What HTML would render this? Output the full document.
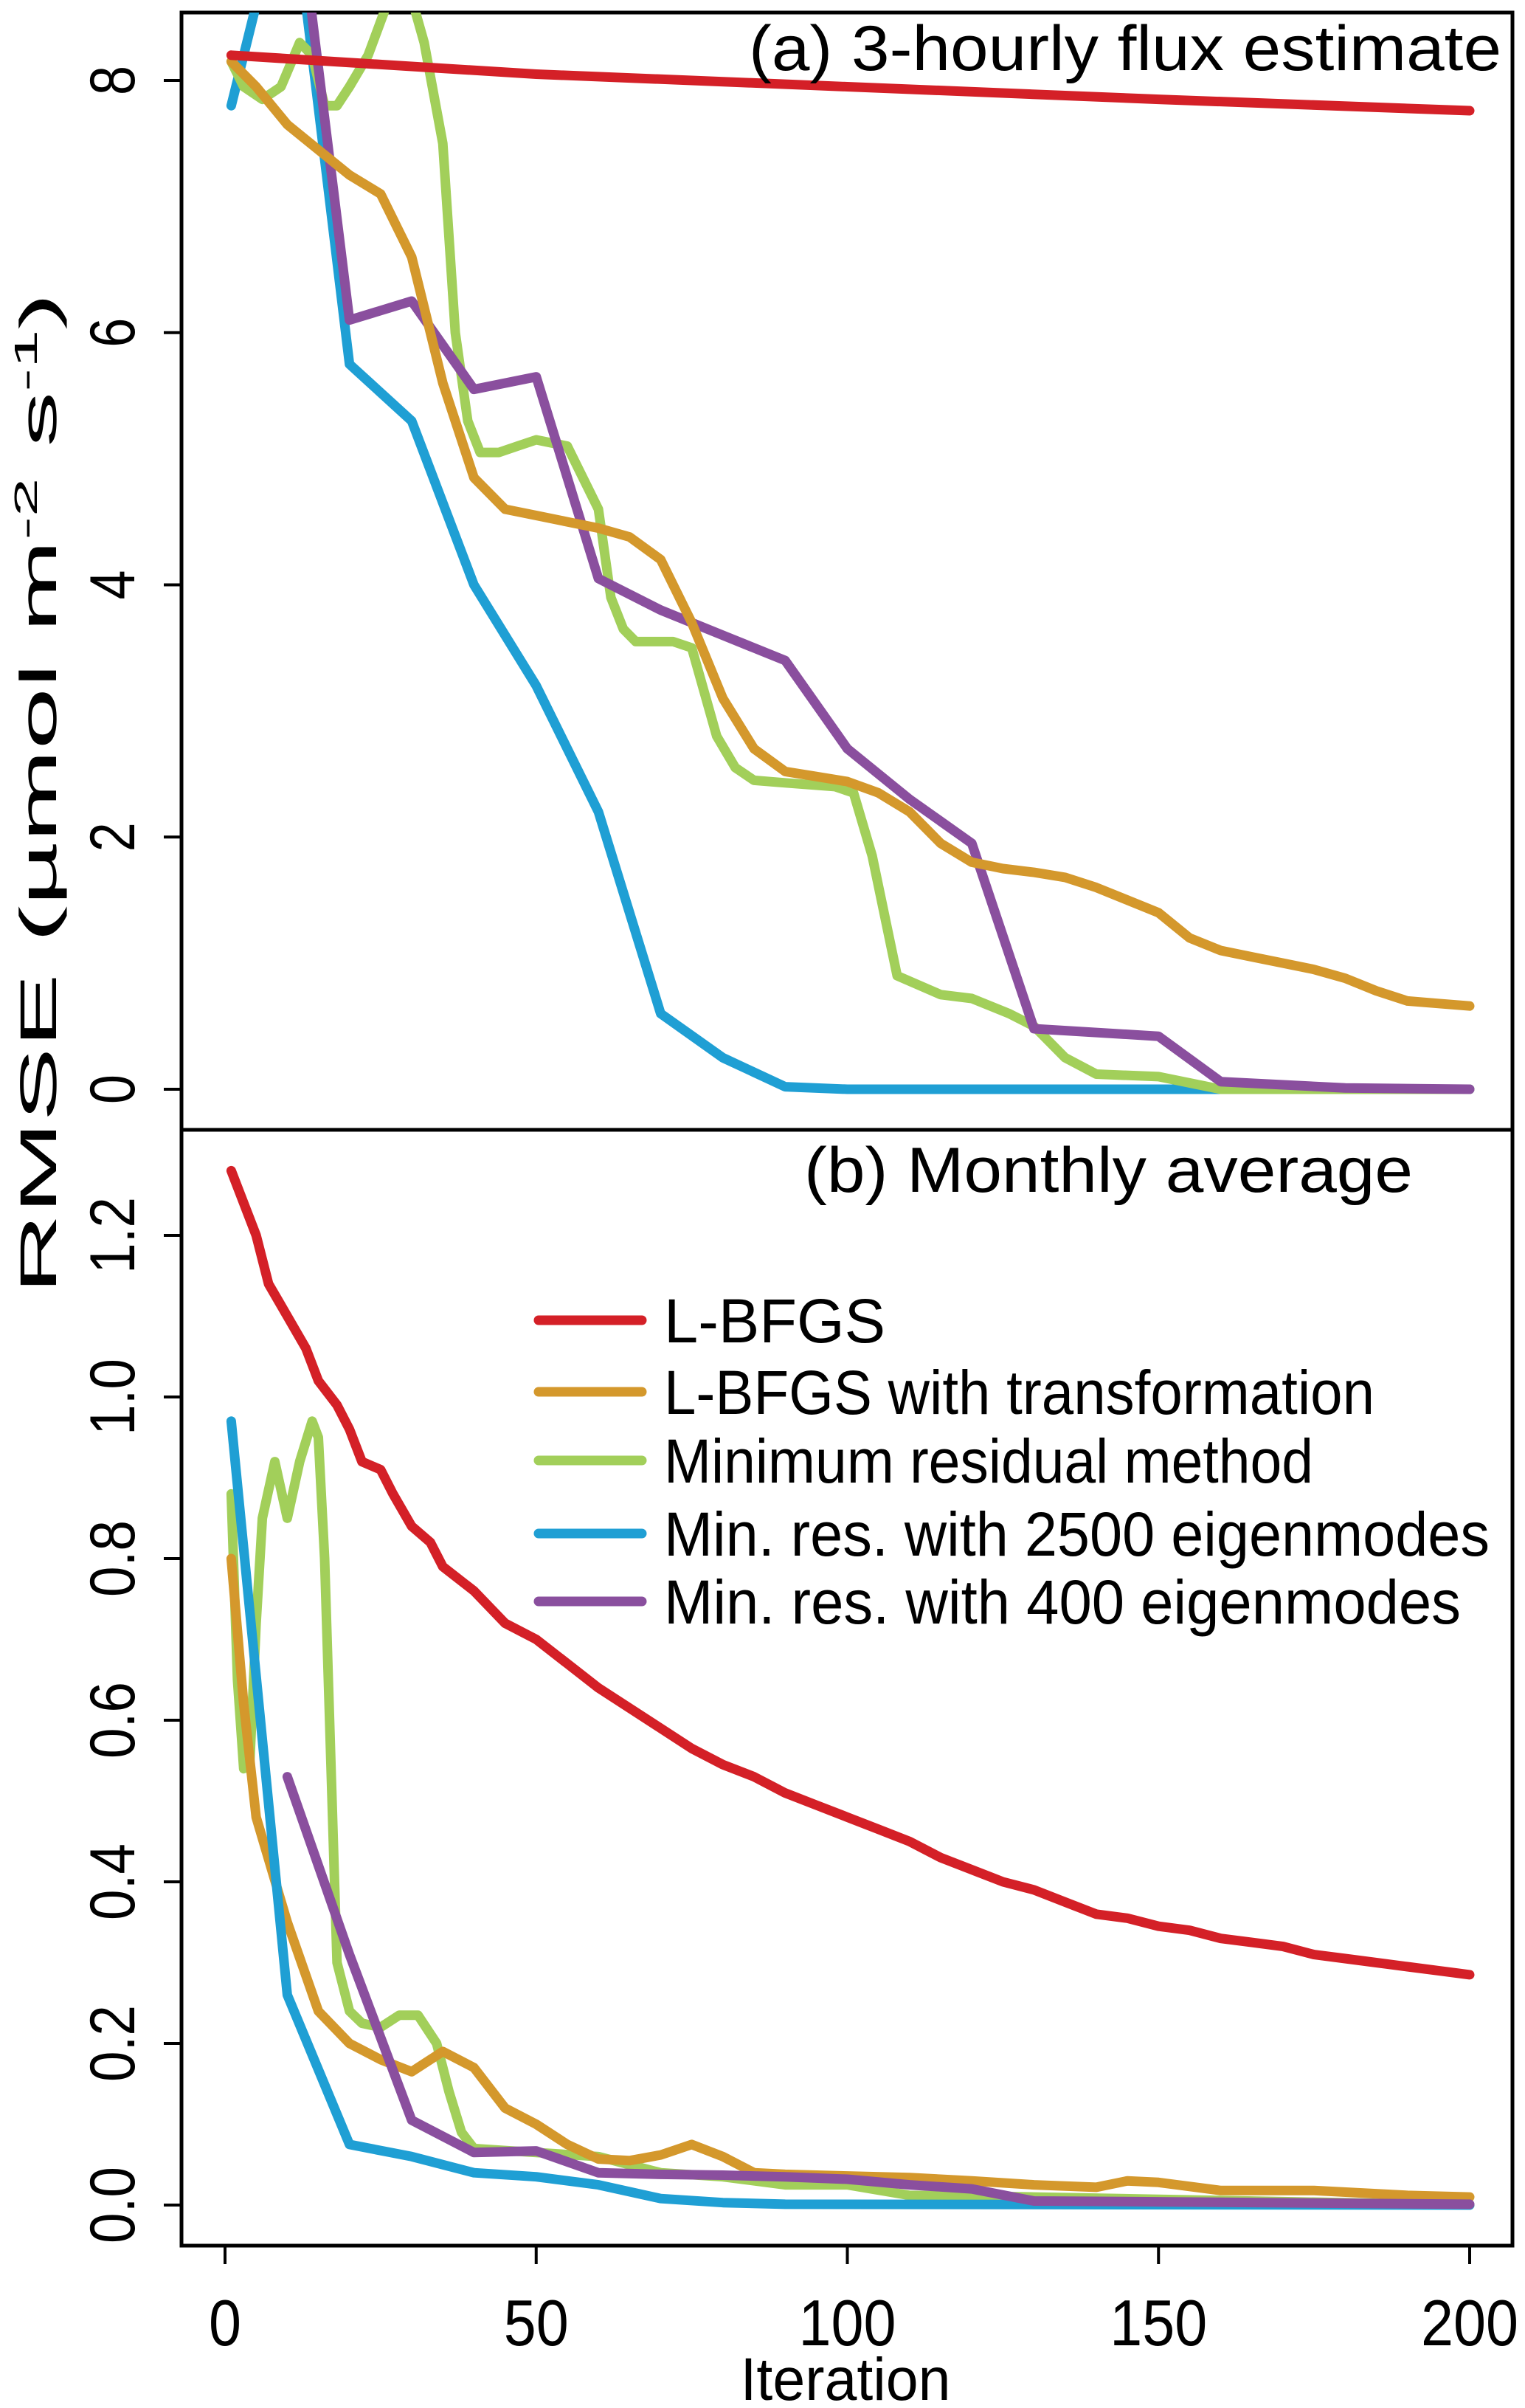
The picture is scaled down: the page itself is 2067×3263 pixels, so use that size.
<!DOCTYPE html>
<html><head><meta charset="utf-8"><style>
html,body{margin:0;padding:0;background:#fff;}
svg{display:block;font-family:"Liberation Sans",sans-serif;}
</style></head><body>
<svg id="chart" width="2067" height="3263" viewBox="0 0 2067 3263" xmlns="http://www.w3.org/2000/svg">
<defs>
<clipPath id="clipTop"><rect x="246" y="17" width="1804" height="1514"/></clipPath>
<clipPath id="clipBot"><rect x="246" y="1531" width="1804" height="1512"/></clipPath>
</defs>
<rect x="246" y="17" width="1804" height="3026" fill="none" stroke="#000" stroke-width="5"/>
<line x1="246" y1="1531" x2="2050" y2="1531" stroke="#000" stroke-width="5"/>
<g id="topLines" clip-path="url(#clipTop)"></g>
<g id="botLines" clip-path="url(#clipBot)"></g>
<g id="axes"></g>
<text x="2035" y="95" font-size="86" text-anchor="end" textLength="1020" lengthAdjust="spacingAndGlyphs">(a) 3-hourly flux estimate</text>
<text x="1915" y="1615" font-size="86" text-anchor="end" textLength="825" lengthAdjust="spacingAndGlyphs">(b) Monthly average</text>
<text transform="translate(76,1075) rotate(-90)" font-size="70" text-anchor="middle" textLength="1357" lengthAdjust="spacingAndGlyphs">RMSE (µmol m<tspan dy="-26" font-size="44">-2</tspan><tspan dy="26"> s</tspan><tspan dy="-26" font-size="44">-1</tspan><tspan dy="26">)</tspan></text>
<text x="1146" y="3252" font-size="82" text-anchor="middle" textLength="285" lengthAdjust="spacingAndGlyphs">Iteration</text>
<g id="legend"></g>
</svg>
<script>
const seriesNames = ["L-BFGS","L-BFGS with transformation","Minimum residual method","Min. res. with 2500 eigenmodes","Min. res. with 400 eigenmodes"];
const seriesKeys = ["lbfgs","lbfgs-transform","min-residual","min-res-2500","min-res-400"];
const colors = ["#d42027","#d4982c","#a2cf5a","#1f9fd4","#8a4f9e"];
const topTicks = [0,2,4,6,8];
const botTicks = ["0.0","0.2","0.4","0.6","0.8","1.0","1.2"];
const xTicks = [0,50,100,150,200];

const topRedIt = [1,50,100,150,200];
const topRedVal = [8.2,8.05,7.95,7.85,7.76];
const topOrangeIt = [1,5,10,15,20,25,30,35,40,45,50,55,60,65,70,75,80,85,90,95,100,105,110,115,120,125,130,135,140,145,150,155,160,165,170,175,180,185,190,195,200];
const topOrangeVal = [8.15,7.95,7.65,7.45,7.25,7.1,6.6,5.6,4.85,4.6,4.55,4.5,4.45,4.38,4.2,3.7,3.1,2.7,2.52,2.48,2.44,2.35,2.2,1.95,1.8,1.75,1.72,1.68,1.6,1.5,1.4,1.2,1.1,1.05,1.0,0.95,0.88,0.78,0.7,0.68,0.66];
const topGreenIt = [1,3,6,9,12,14,16,18,20,23,26,28,30,32,35,37,39,41,44,47,50,55,58,60,62,64,66,72,75,79,82,85,90,98,101,104,108,115,120,126,130,135,140,150,160,200];
const topGreenVal = [8.15,7.95,7.85,7.95,8.3,8.2,7.8,7.8,7.95,8.2,8.6,8.75,8.65,8.3,7.5,6.0,5.3,5.05,5.05,5.1,5.15,5.1,4.8,4.6,3.9,3.65,3.55,3.55,3.5,2.8,2.55,2.45,2.43,2.4,2.35,1.85,0.9,0.75,0.72,0.6,0.5,0.25,0.12,0.1,0.0,0.0];
const topBlueIt = [1,5,8,13,20,30,40,50,60,70,80,90,100,200];
const topBlueVal = [7.8,8.6,9.5,8.6,5.75,5.3,4.0,3.2,2.2,0.6,0.25,0.02,0.0,0.0];
const topPurpleIt = [12,14,20,30,40,50,60,70,80,90,100,110,120,130,150,160,180,200];
const topPurpleVal = [9.5,8.5,6.1,6.25,5.55,5.65,4.05,3.8,3.6,3.4,2.7,2.3,1.95,0.48,0.42,0.06,0.01,0.0];

const botRedIt = [1,3,5,7,10,13,15,18,20,22,25,27,30,33,35,40,45,50,55,60,65,70,75,80,85,90,95,100,105,110,115,120,125,130,135,140,145,150,155,160,165,170,175,180,185,190,195,200];
const botRedVal = [1.28,1.24,1.2,1.14,1.1,1.06,1.02,0.99,0.96,0.92,0.91,0.88,0.84,0.82,0.79,0.76,0.72,0.7,0.67,0.64,0.615,0.59,0.565,0.545,0.53,0.51,0.495,0.48,0.465,0.45,0.43,0.415,0.4,0.39,0.375,0.36,0.355,0.345,0.34,0.33,0.325,0.32,0.31,0.305,0.3,0.295,0.29,0.285];
const botOrangeIt = [1,3,5,10,15,20,25,30,35,40,45,50,55,60,65,70,75,80,85,90,100,110,120,130,140,145,150,160,175,190,200];
const botOrangeVal = [0.8,0.62,0.48,0.35,0.24,0.2,0.18,0.165,0.19,0.17,0.12,0.1,0.075,0.057,0.055,0.062,0.075,0.06,0.04,0.038,0.036,0.034,0.03,0.025,0.022,0.03,0.028,0.018,0.018,0.012,0.01];
const botGreenIt = [1,2,3,4,5,6,8,10,12,14,15,16,17,18,20,22,25,28,31,34,36,38,40,50,60,65,70,80,90,100,110,130,200];
const botGreenVal = [0.88,0.65,0.54,0.55,0.72,0.85,0.92,0.85,0.92,0.97,0.95,0.8,0.55,0.3,0.24,0.225,0.22,0.235,0.235,0.2,0.14,0.09,0.07,0.065,0.06,0.05,0.04,0.035,0.025,0.025,0.012,0.01,0.0];
const botBlueIt = [1,10,20,30,40,50,60,70,80,90,200];
const botBlueVal = [0.97,0.26,0.075,0.06,0.04,0.035,0.025,0.008,0.003,0.001,0.0];
const botPurpleIt = [10,20,30,40,50,60,70,80,90,100,110,120,130,150,200];
const botPurpleVal = [0.53,0.31,0.105,0.065,0.067,0.04,0.038,0.037,0.035,0.032,0.025,0.02,0.005,0.004,0.001];

const NS = "http://www.w3.org/2000/svg";
function xS(v){ return 305 + v * (1992 - 305) / 200; }
function yTop(v){ return 1476 - v * (1476 - 109) / 8; }
function yBot(v){ return 2988 - v * (2988 - 1674) / 1.2; }
function mk(tag, attrs, parent){ const e = document.createElementNS(NS, tag); for (const k in attrs) e.setAttribute(k, attrs[k]); parent.appendChild(e); return e; }

function drawLine(its, vals, yf, color, parent, name){
  const d = its.map((it, i) => (i ? "L" : "M") + xS(it).toFixed(1) + "," + yf(vals[i]).toFixed(1)).join(" ");
  const p = mk("path", {d: d, fill: "none", stroke: color, "stroke-width": 13, "stroke-linejoin": "round", "stroke-linecap": "round"}, parent);
  
  
}
const topG = document.getElementById("topLines");
const botG = document.getElementById("botLines");
drawLine(topBlueIt, topBlueVal, yTop, colors[3], topG, "line-a-min-res-2500");
drawLine(topGreenIt, topGreenVal, yTop, colors[2], topG, "line-a-min-residual");
drawLine(topPurpleIt, topPurpleVal, yTop, colors[4], topG, "line-a-min-res-400");
drawLine(topOrangeIt, topOrangeVal, yTop, colors[1], topG, "line-a-lbfgs-transform");
drawLine(topRedIt, topRedVal, yTop, colors[0], topG, "line-a-lbfgs");
drawLine(botRedIt, botRedVal, yBot, colors[0], botG, "line-b-lbfgs");
drawLine(botGreenIt, botGreenVal, yBot, colors[2], botG, "line-b-min-residual");
drawLine(botOrangeIt, botOrangeVal, yBot, colors[1], botG, "line-b-lbfgs-transform");
drawLine(botBlueIt, botBlueVal, yBot, colors[3], botG, "line-b-min-res-2500");
drawLine(botPurpleIt, botPurpleVal, yBot, colors[4], botG, "line-b-min-res-400");

const ax = document.getElementById("axes");
topTicks.forEach(t => {
  const y = yTop(t);
  const l = mk("line", {x1: 222, y1: y, x2: 246, y2: y, stroke: "#000", "stroke-width": 4}, ax);
  
  
  const tx = mk("text", {transform: "translate(182," + y + ") rotate(-90)", "font-size": 86, "text-anchor": "middle", textLength: 40, lengthAdjust: "spacingAndGlyphs"}, ax);
  tx.textContent = t;
  
  
});
botTicks.forEach(t => {
  const y = yBot(parseFloat(t));
  const l = mk("line", {x1: 222, y1: y, x2: 246, y2: y, stroke: "#000", "stroke-width": 4}, ax);
  
  
  const tx = mk("text", {transform: "translate(182," + y + ") rotate(-90)", "font-size": 86, "text-anchor": "middle", textLength: 104, lengthAdjust: "spacingAndGlyphs"}, ax);
  tx.textContent = t;
  
  
});
xTicks.forEach(t => {
  const x = xS(t);
  const l = mk("line", {x1: x, y1: 3043, x2: x, y2: 3068, stroke: "#000", "stroke-width": 4}, ax);
  
  
  const tx = mk("text", {x: x, y: 3178, "font-size": 88, "text-anchor": "middle", textLength: String(t).length * 44, lengthAdjust: "spacingAndGlyphs"}, ax);
  tx.textContent = t;
  
  
});

const lg = document.getElementById("legend");


const legendY = [1789, 1886, 1979, 2078, 2170];
const legendLen = [300, 963, 880, 1119, 1080];
seriesNames.forEach((n, i) => {
  const l = mk("line", {x1: 730, y1: legendY[i], x2: 870, y2: legendY[i], stroke: colors[i], "stroke-width": 13, "stroke-linecap": "round"}, lg);
  
  
  const tx = mk("text", {x: 900, y: legendY[i] + 30, "font-size": 84, textLength: legendLen[i], lengthAdjust: "spacingAndGlyphs"}, lg);
  tx.textContent = n;
  
  
});
</script>
</body></html>
